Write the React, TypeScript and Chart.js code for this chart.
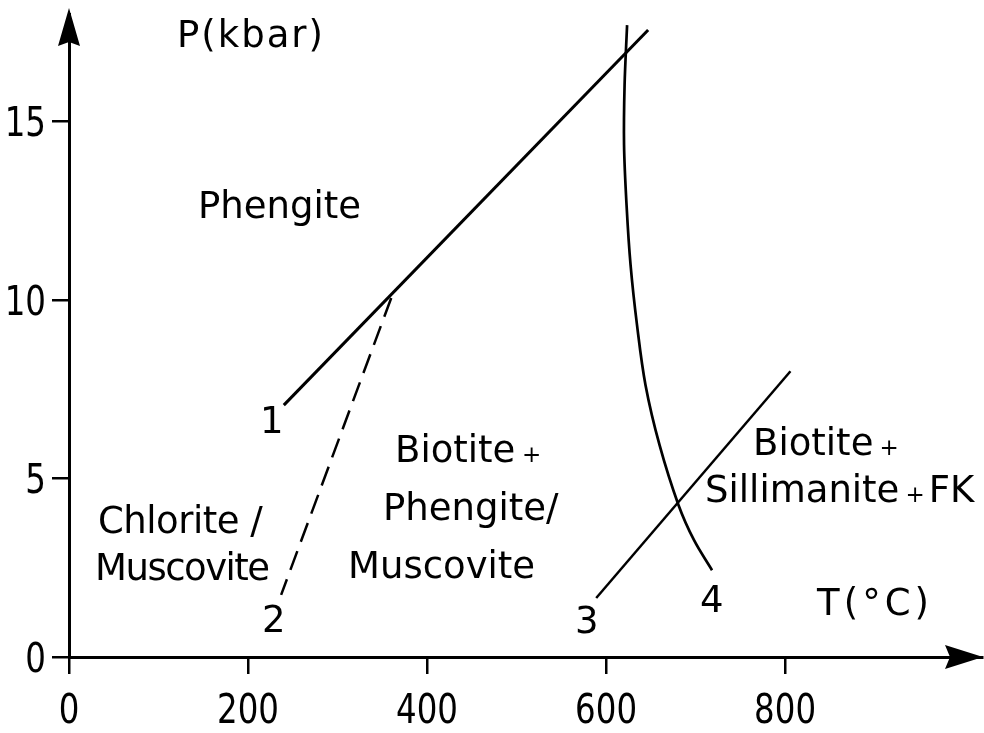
import React, { useEffect, useRef } from "react";
import { Chart, registerables } from "chart.js";

Chart.register(...registerables);

// Axis ticks
const X_TICKS = [0, 200, 400, 600, 800];
const Y_TICKS = [0, 5, 10, 15];

// Boundary 1 (solid)
const LINE1_T = [240, 647];
const LINE1_P = [7.05, 17.55];
// Boundary 2 (dashed)
const LINE2_T = [360, 237];
const LINE2_P = [10.05, 1.74];
// Boundary 3 (solid)
const LINE3_T = [589, 806];
const LINE3_P = [1.65, 8.0];
// Boundary 4 (curved)
const CURVE4_T = [623.5, 620.7, 620.1, 622.9, 627.4, 634.6, 644.1, 659.8, 681.0, 698.3, 718.4];
const CURVE4_P = [17.69, 16.01, 14.33, 12.65, 10.97, 9.29, 7.61, 5.93, 4.25, 3.27, 2.43];

// Text annotations (anchored in data units: left edge / baseline)
const LABEL_TEXT = [
  "P(kbar)",
  "Phengite",
  "Chlorite /",
  "Muscovite",
  "1",
  "2",
  "Biotite +",
  "Phengite/",
  "Muscovite",
  "3",
  "4",
  "T(°C)",
  "Biotite+",
  "Sillimanite+FK",
];
const LABEL_T = [120.7, 144.1, 32.4, 29.1, 213.4, 215.6, 364.2, 350.8, 311.7, 565.4, 705.0, 835.8, 764.2, 710.6];
const LABEL_P = [17.07, 12.29, 3.47, 2.16, 6.27, 0.7, 5.46, 3.83, 2.21, 0.67, 1.26, 1.18, 5.65, 4.34];

const X_MIN = 0;
const X_MAX = 1020;
const Y_MIN = 0;
const Y_MAX = 18;

// Letter spacing (px) for individual labels, by index
const LABEL_SPACING: Record<number, number> = { 0: 2, 2: -0.5, 3: -1.5, 11: 4 };

const LABEL_FONT = "37px 'DejaVu Sans', sans-serif";
const PLUS_FONT = "23px 'DejaVu Sans', sans-serif";
const TICK_FONT = "41px 'DejaVu Sans Condensed', 'DejaVu Sans', sans-serif";
const TICK_SCALE_X = 0.88;

const pts = (t: number[], p: number[]) => t.map((v, i) => ({ x: v, y: p[i] }));

const annotatePlugin = {
  id: "annotate",
  afterDraw(chart: any) {
    const { ctx, chartArea, scales } = chart;
    const xs = scales.x;
    const ys = scales.y;
    ctx.save();
    ctx.fillStyle = "#000";
    ctx.strokeStyle = "#000";

    // Y axis arrow head
    const ax = chartArea.left;
    const top = chartArea.top;
    ctx.beginPath();
    ctx.moveTo(ax, top - 6);
    ctx.lineTo(ax - 11, top + 32);
    ctx.lineTo(ax, top + 28);
    ctx.lineTo(ax + 11, top + 32);
    ctx.closePath();
    ctx.fill();

    // X axis arrow head
    const ay = chartArea.bottom;
    const right = chartArea.right;
    ctx.beginPath();
    ctx.moveTo(right + 1, ay);
    ctx.lineTo(right - 37, ay - 12);
    ctx.lineTo(right - 32, ay);
    ctx.lineTo(right - 37, ay + 12);
    ctx.closePath();
    ctx.fill();

    // Tick labels (condensed digits), positioned by the scales
    ctx.font = TICK_FONT;
    ctx.textBaseline = "alphabetic";
    X_TICKS.forEach((v) => {
      const px = xs.getPixelForValue(v);
      ctx.save();
      ctx.scale(TICK_SCALE_X, 1);
      ctx.textAlign = "center";
      ctx.fillText(String(v), px / TICK_SCALE_X, chartArea.bottom + 66);
      ctx.restore();
    });
    Y_TICKS.forEach((v) => {
      const py = ys.getPixelForValue(v);
      ctx.save();
      ctx.scale(TICK_SCALE_X, 1);
      ctx.textAlign = "right";
      ctx.fillText(String(v), (chartArea.left - 23) / TICK_SCALE_X, py + 15);
      ctx.restore();
    });

    // Text labels
    ctx.textBaseline = "alphabetic";
    ctx.textAlign = "left";
    LABEL_TEXT.forEach((text, i) => {
      let px = xs.getPixelForValue(LABEL_T[i]);
      const py = ys.getPixelForValue(LABEL_P[i]);
      const spacing = LABEL_SPACING[i] ?? 0;
      (ctx as any).letterSpacing = spacing + "px";
      const parts = text.split("+");
      parts.forEach((part, k) => {
        ctx.font = LABEL_FONT;
        if (part.length) {
          ctx.fillText(part, px, py);
          px += ctx.measureText(part).width;
        }
        if (k < parts.length - 1) {
          ctx.font = PLUS_FONT;
          px += part.endsWith(" ") ? -5 : 6;
          ctx.fillText("+", px, py);
          px += ctx.measureText("+").width + 4;
        }
      });
      (ctx as any).letterSpacing = "0px";
    });
    ctx.restore();
  },
};

export default function App() {
  const canvasRef = useRef<HTMLCanvasElement | null>(null);

  useEffect(() => {
    if (!canvasRef.current) return;
    const lineDs = (t: number[], p: number[], width: number, extra: any = {}) => ({
      type: "scatter" as const,
      data: pts(t, p),
      showLine: true,
      borderColor: "#000",
      backgroundColor: "#000",
      borderWidth: width,
      pointRadius: 0,
      pointHoverRadius: 0,
      fill: false,
      ...extra,
    });

    const gridOpts = {
      display: true,
      drawOnChartArea: false,
      drawTicks: true,
      tickLength: 17,
      color: "#000",
      lineWidth: 2.5,
    };

    const chart = new Chart(canvasRef.current, {
      type: "scatter",
      data: {
        datasets: [
          lineDs(LINE1_T, LINE1_P, 3),
          lineDs(LINE2_T, LINE2_P, 2.5, { borderDash: [20, 10] }),
          lineDs(LINE3_T, LINE3_P, 2.5),
          lineDs(CURVE4_T, CURVE4_P, 2.7, { tension: 0.35 }),
        ] as any,
      },
      options: {
        animation: false,
        responsive: false,
        devicePixelRatio: 1,
        layout: { padding: { left: 9, top: 14, right: 2, bottom: 0 } },
        plugins: {
          legend: { display: false },
          tooltip: { enabled: false },
        },
        events: [],
        scales: {
          x: {
            type: "linear",
            min: X_MIN,
            max: X_MAX,
            afterBuildTicks: (scale: any) => {
              scale.ticks = X_TICKS.map((v) => ({ value: v }));
            },
            afterFit: (scale: any) => {
              scale.height = 76;
              scale.paddingLeft = 0;
              scale.paddingRight = 0;
              scale.paddingTop = 0;
              scale.paddingBottom = 0;
            },
            grid: gridOpts,
            border: { display: true, color: "#000", width: 3 },
            ticks: { display: false },
          },
          y: {
            type: "linear",
            min: Y_MIN,
            max: Y_MAX,
            afterBuildTicks: (scale: any) => {
              scale.ticks = Y_TICKS.map((v) => ({ value: v }));
            },
            afterFit: (scale: any) => {
              scale.width = 60;
              scale.paddingLeft = 0;
              scale.paddingRight = 0;
              scale.paddingTop = 0;
              scale.paddingBottom = 0;
            },
            grid: gridOpts,
            border: { display: true, color: "#000", width: 3 },
            ticks: { display: false },
          },
        },
      } as any,
      plugins: [annotatePlugin],
    });
    return () => chart.destroy();
  }, []);

  return (
    <div
      style={{
        position: "fixed",
        left: 0,
        top: 0,
        width: 984,
        height: 733,
        background: "#fff",
      }}
    >
      <canvas ref={canvasRef} width={984} height={733} style={{ display: "block" }} />
    </div>
  );
}
